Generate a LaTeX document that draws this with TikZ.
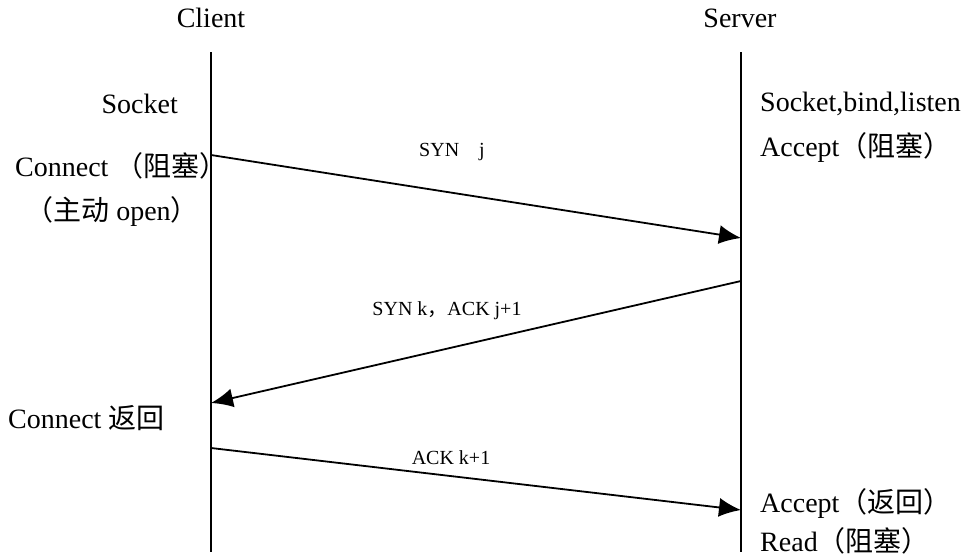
\documentclass[tikz,border=0pt]{standalone}
\usepackage{fontspec}
\setmainfont{Liberation Serif}
\newfontfamily\cjk{Noto Sans CJK SC}
\newcommand{\zh}[1]{{\cjk #1}}
\usetikzlibrary{arrows.meta,positioning}

\begin{document}
\begin{tikzpicture}[
  x=1pt, y=-1pt,
  head/.style={font=\fontsize{28}{32}\selectfont, inner sep=0pt},
  note/.style={font=\fontsize{28}{32}\selectfont, inner sep=0pt},
  msg/.style={font=\fontsize{20}{24}\selectfont, inner sep=0pt},
  life/.style={line width=1.8pt},
  arr/.style={-{Latex[length=22pt,width=19pt]}, line width=1.8pt}
]
  \useasboundingbox (0,0) rectangle (966,554);

  % the two sides
  \node[head] (client) at (211,18) {Client};
  \node[head] (server) at (740,18) {Server};
  \coordinate (ctop) at (211,52);
  \coordinate (cbot) at (211,552);
  \coordinate (stop) at (741,52);
  \coordinate (sbot) at (741,552);
  \draw[life] (ctop) -- (cbot);
  \draw[life] (stop) -- (sbot);

  % client calls
  \node[note, anchor=east] (csock) at (178,104) {Socket};
  \node[note, anchor=west] (cconn) at (15,166) {Connect \zh{（阻塞）}};
  \node[note] (copen) at (112,211) {\zh{（主动} open\zh{）}};
  \node[note, anchor=west] (cret) at (8,418) {Connect \zh{返回}};

  % server calls
  \node[note, anchor=west] (ssock) at (760,104) {Socket,bind,listen};
  \node[note, anchor=west] (sacc) at (760,147) {Accept\zh{（阻塞）}};
  \node[note, anchor=west] (sret) at (760,503) {Accept\zh{（返回）}};
  \node[note, anchor=west] (sread) at (760,541) {Read\zh{（阻塞）}};

  % handshake
  \coordinate (c1) at (211,155);
  \coordinate (s1) at (741,238);
  \coordinate (s2) at (741,281);
  \coordinate (c2) at (211,403);
  \coordinate (c3) at (211,448);
  \coordinate (s3) at (741,510);
  \draw[arr] (c1) -- (s1);
  \draw[arr] (s2) -- (c2);
  \draw[arr] (c3) -- (s3);
  \node[msg] (syn) at (452,152) {SYN\quad j};
  \node[msg] (synack) at (447,311) {SYN k\zh{，}ACK j+1};
  \node[msg] (ack) at (451,458) {ACK k+1};
\end{tikzpicture}
\end{document}
